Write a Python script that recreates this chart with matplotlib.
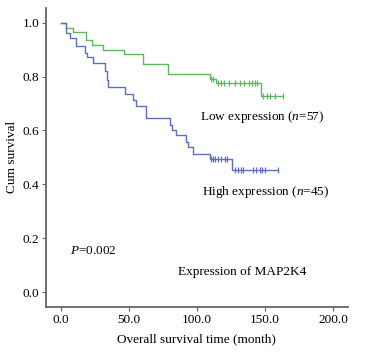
import numpy as np
import matplotlib.pyplot as plt

plt.rcParams['font.family'] = ['Liberation Serif', 'DejaVu Serif']
plt.rcParams['mathtext.fontset'] = 'custom'
plt.rcParams['mathtext.rm'] = 'Liberation Serif'
plt.rcParams['mathtext.it'] = 'Liberation Serif:italic'

# Low expression (green) - step times and survival after each step
low_t = [0, 3.7, 8.6, 18.4, 22.5, 31.1, 46.3, 60.0, 78.9, 109.6, 113.7, 147.0]
low_s = [1.0, 0.982, 0.965, 0.936, 0.917, 0.899, 0.883, 0.846, 0.810, 0.791, 0.775, 0.727]
low_end = 163.5
low_cens_t = [110.5, 111.8, 115.7, 117.4, 119.9, 123.8, 128.0, 131.6, 134.8, 138.2,
              140.2, 142.6, 144.3, 148.8, 151.2, 153.7, 157.4, 163.5]

# High expression (blue)
high_t = [0, 3.4, 3.8, 6.6, 11.0, 17.6, 19.3, 23.3, 32.4, 33.5, 34.5, 47.0, 53.2, 55.0,
          62.3, 80.1, 81.5, 84.6, 91.9, 93.5, 97.3, 109.6, 125.5]
high_s = [1.0, 0.978, 0.961, 0.942, 0.915, 0.889, 0.872, 0.849, 0.820, 0.787, 0.760,
          0.735, 0.713, 0.691, 0.645, 0.620, 0.602, 0.583, 0.559, 0.540, 0.513, 0.493, 0.454]
high_end = 159.8
high_cens_t = [110.0, 111.5, 113.2, 115.7, 117.4, 120.6, 122.3, 128.0, 130.4, 132.1,
               134.1, 141.4, 143.4, 146.3, 147.6, 150.0, 159.8]

low_color = '#5cb85c'
high_color = '#5a6fbf'


def surv_at(ts, ss, x):
    i = np.searchsorted(ts, x, side='right') - 1
    return np.array(ss)[i]


fig = plt.figure(figsize=(3.74, 3.58), dpi=100)
ax = fig.add_axes([0.123, 0.1425, 0.807, 0.8355])

for ts, ss, end, cens, c in [(low_t, low_s, low_end, low_cens_t, low_color),
                             (high_t, high_s, high_end, high_cens_t, high_color)]:
    xs = list(ts) + [end]
    ys = list(ss) + [ss[-1]]
    ax.step(xs, ys, where='post', color=c, lw=1.0)
    ax.plot(cens, surv_at(ts, ss, np.array(cens)), ls='none', marker='|',
            ms=5, mew=0.9, color=c)

ax.set_xlim(-11, 210.8)
ax.set_ylim(-0.055, 1.055)
ax.set_xticks([0, 50, 100, 150, 200])
ax.set_xticklabels(['0.0', '50.0', '100.0', '150.0', '200.0'])
ax.set_yticks([0, 0.2, 0.4, 0.6, 0.8, 1.0])
ax.set_yticklabels(['0.0', '0.2', '0.4', '0.6', '0.8', '1.0'])

for s in ['top', 'right']:
    ax.spines[s].set_visible(False)
for s in ['left', 'bottom']:
    ax.spines[s].set_color('#666666')
    ax.spines[s].set_linewidth(1.3)
ax.tick_params(direction='out', length=3, width=0.8, color='#666666',
               labelsize=9.5, pad=2)

ax.set_xlabel('Overall survival time (month)', fontsize=9.5, labelpad=5)
ax.set_ylabel('Cum survival', fontsize=9.5, labelpad=3)

ax.text(102.2, 0.649, 'Low expression ($\\it{n}$=57)', fontsize=9.5, va='center')
ax.text(103.7, 0.371, 'High expression ($\\it{n}$=45)', fontsize=9.5, va='center')
ax.text(6.6, 0.153, '$\\it{P}$=0.002', fontsize=9.5, va='center')
ax.text(86, 0.076, 'Expression of MAP2K4', fontsize=9.5, va='center')

fig.savefig('out.png', dpi=100)
